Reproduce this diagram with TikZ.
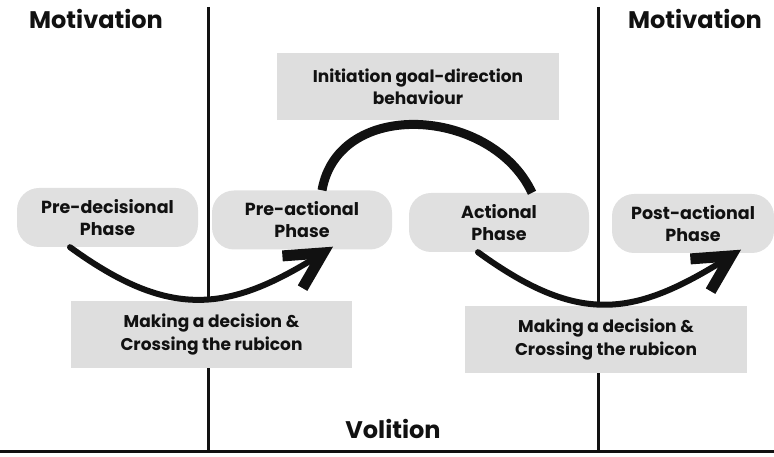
\documentclass[tikz,border=0pt]{standalone}
\usepackage{fontspec}
\setmainfont{Poppins}
\usetikzlibrary{arrows.meta,calc}
\definecolor{boxgray}{HTML}{DEDEDE}
\definecolor{pillgray}{HTML}{E0E0E0}
\definecolor{ink}{HTML}{111111}
\tikzset{
  title/.style={font=\bfseries\fontsize{24}{26}\selectfont, text=ink},
  phase/.style={fill=pillgray, rounded corners=22pt, minimum width=#1, minimum height=59pt,
    align=center, text=ink, font=\bfseries\fontsize{17.5}{22}\selectfont, inner sep=0pt},
  notebox/.style={fill=boxgray, minimum width=282pt, minimum height=67pt,
    align=center, text=ink, font=\bfseries\fontsize{17}{22.5}\selectfont, inner sep=0pt},
  divider/.style={draw=ink, line width=3pt},
  flow/.style={draw=ink, line width=6pt, line cap=round,
    -{Straight Barb[length=36pt, width=38pt, line width=11pt]}},
  bridge/.style={draw=ink, line width=9pt}
}
\begin{document}
\begin{tikzpicture}[x=1pt, y=1pt]
\useasboundingbox (0,0) rectangle (774,457);
% dividers
\coordinate (ltop) at (208,450);
\coordinate (lbot) at (208,5);
\coordinate (rtop) at (598,450);
\coordinate (rbot) at (598,5);
\coordinate (bl) at (0,5);
\coordinate (br) at (774,5);
\draw[divider] (ltop) -- (lbot);
\draw[divider] (rtop) -- (rbot);
\draw[divider] (bl) -- (br);
% titles
\node[title] (motl) at (96,438) {Motivation};
\node[title] (motr) at (695,438) {Motivation};
\node[title] (vol) at (393,28) {Volition};
% boxes
\node[notebox] (init) at (418,370) {Initiation goal-direction\\behaviour};
\node[notebox, minimum width=281pt] (decl) at (211.5,122.5) {Making a decision \&\\Crossing the rubicon};
\node[notebox] (decr) at (606,117.5) {Making a decision \&\\Crossing the rubicon};
% phases
\node[phase=181pt] (pd) at (107.5,239.5) {Pre-decisional\\Phase};
\node[phase=180pt] (pa) at (302,237) {Pre-actional\\Phase};
\node[phase=180pt] (ac) at (499,234.5) {Actional\\Phase};
\node[phase=162pt] (po) at (693,233.5) {Post-actional\\Phase};
% connectors
\draw[flow] ($(pd.south)+(-37.5,0)$) to[out=-36, in=212, looseness=1.2] ($(pa.south)+(31,3)$);
\draw[flow] ($(ac.south)+(-21,0)$) to[out=-36, in=212, looseness=1.22] ($(po.south)+(48,3.5)$);
\draw[bridge] ($(pa.north)+(20,0)$) to[out=80, in=115, looseness=1.15] ($(ac.north)+(33,0)$);
\end{tikzpicture}
\end{document}
